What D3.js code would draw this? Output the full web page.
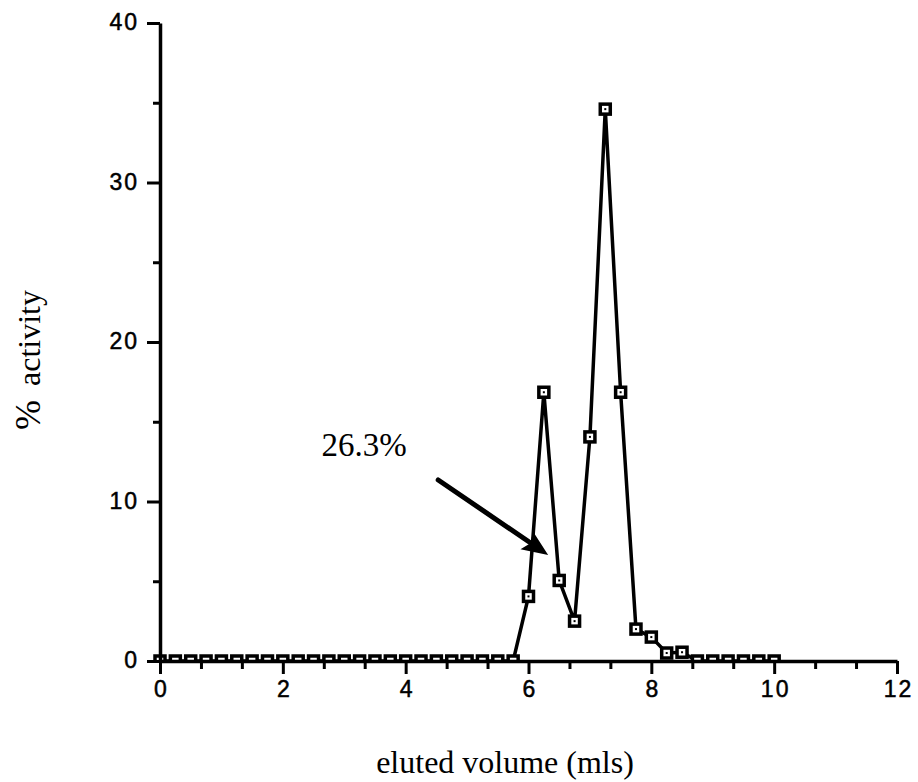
<!DOCTYPE html>
<html>
<head>
<meta charset="utf-8">
<script src="https://cdn.jsdelivr.net/npm/d3@7"></script>
<style>
  body { margin: 0; background: #fff; }
  svg { display: block; }
</style>
</head>
<body>
<svg id="chart" width="918" height="782"></svg>
<script>
// ---- data ----
const volume = [0, 0.25, 0.5, 0.75, 1, 1.25, 1.5, 1.75, 2, 2.25, 2.5, 2.75, 3, 3.25, 3.5, 3.75,
  4, 4.25, 4.5, 4.75, 5, 5.25, 5.5, 5.75, 6, 6.25, 6.5, 6.75, 7, 7.25, 7.5, 7.75, 8, 8.25, 8.5,
  8.75, 9, 9.25, 9.5, 9.75, 10];
const activity = [0, 0, 0, 0, 0, 0, 0, 0, 0, 0, 0, 0, 0, 0, 0, 0,
  0, 0, 0, 0, 0, 0, 0, 0, 4.05, 16.85, 5.05, 2.5, 14.05, 34.6, 16.85, 2.0, 1.5, 0.5, 0.55,
  0, 0, 0, 0, 0, 0];
const xMajorTicks = [0, 2, 4, 6, 8, 10, 12];
const xMinorTicks = [0.667, 1.333, 2.667, 3.333, 4.667, 5.333, 6.667, 7.333, 8.667, 9.333, 10.667, 11.333];
const yMajorTicks = [0, 10, 20, 30, 40];
const yMinorTicks = [5, 15, 25, 35];
const annotationText = "26.3%";
const annotationPos = [2.63, 12.85];
const arrowFrom = [4.53, 11.35];
const arrowTo = [6.32, 6.65];
const xTitle = "eluted volume (mls)";
const yTitleParts = ["%", "activity"];

// ---- layout ----
const svg = d3.select("#chart");
const x = d3.scaleLinear().domain([0, 12]).range([160, 897]);
const y = d3.scaleLinear().domain([0, 40]).range([661, 23]);

const tickFont = "'Liberation Sans', Arial, Helvetica, sans-serif";
const serif = "'Liberation Serif', 'Times New Roman', serif";

const data = volume.map((v, i) => ({ v, a: activity[i] }));

svg.append("defs").append("clipPath").attr("id", "plotclip")
  .append("rect").attr("x", 0).attr("y", 0).attr("width", 918).attr("height", y(0) + 1);

// line
svg.append("path")
  .datum(data)
  .attr("fill", "none")
  .attr("stroke", "#000")
  .attr("stroke-width", 3.5)
  .attr("stroke-linejoin", "miter")
  .attr("d", d3.line().x(d => x(d.v)).y(d => y(d.a)));

// markers
const mk = svg.append("g").attr("clip-path", "url(#plotclip)")
  .selectAll("g").data(data).join("g")
  .attr("transform", d => `translate(${x(d.v)},${y(d.a)})`);
mk.append("rect")
  .attr("x", -5).attr("y", -5).attr("width", 10).attr("height", 10)
  .attr("fill", "#fff").attr("stroke", "#000").attr("stroke-width", 3.5);
mk.append("rect")
  .attr("x", -1).attr("y", -1).attr("width", 2).attr("height", 2)
  .attr("fill", "#000");

// x axis
const xAxisG = svg.append("g").attr("transform", `translate(0,${y(0)})`);
xAxisG.call(d3.axisBottom(x).tickValues(xMajorTicks).tickSize(13).tickSizeOuter(0)
  .tickFormat(d3.format("d")));
xAxisG.append("g").call(d3.axisBottom(x).tickValues(xMinorTicks).tickSize(8).tickSizeOuter(0).tickFormat(""))
  .select(".domain").remove();
xAxisG.selectAll("path.domain").attr("stroke-width", 3.5);
xAxisG.selectAll(".tick line").attr("stroke-width", 3);
xAxisG.selectAll(".tick text")
  .attr("font-family", tickFont).attr("font-size", 23).attr("fill", "#000")
  .attr("stroke", "#000").attr("stroke-width", 0.5)
  .attr("letter-spacing", 2).attr("dx", 1).attr("dy", "0.85em");

// y axis
const yAxisG = svg.append("g").attr("transform", `translate(${x(0)},0)`);
yAxisG.call(d3.axisLeft(y).tickValues(yMajorTicks).tickSize(13).tickSizeOuter(0)
  .tickFormat(d3.format("d")));
yAxisG.append("g").call(d3.axisLeft(y).tickValues(yMinorTicks).tickSize(7).tickSizeOuter(0).tickFormat(""))
  .select(".domain").remove();
yAxisG.selectAll("path.domain").attr("stroke-width", 3.5);
yAxisG.selectAll(".tick line").attr("stroke-width", 3);
yAxisG.selectAll(".tick text")
  .attr("font-family", tickFont).attr("font-size", 23).attr("fill", "#000")
  .attr("stroke", "#000").attr("stroke-width", 0.5)
  .attr("letter-spacing", 2).attr("x", -21).attr("dy", "0.3em");

// annotation
svg.append("text")
  .attr("x", x(annotationPos[0])).attr("y", y(annotationPos[1]))
  .attr("font-family", serif).attr("font-size", 33).attr("fill", "#000")
  .text(annotationText);

// arrow
const ax0 = x(arrowFrom[0]), ay0 = y(arrowFrom[1]);
const ax1 = x(arrowTo[0]), ay1 = y(arrowTo[1]);
const ang = Math.atan2(ay1 - ay0, ax1 - ax0);
const headLen = 26, headHalf = 11;
const bx = ax1 - headLen * Math.cos(ang), by = ay1 - headLen * Math.sin(ang);
svg.append("line")
  .attr("x1", ax0).attr("y1", ay0).attr("x2", bx + 4 * Math.cos(ang)).attr("y2", by + 4 * Math.sin(ang))
  .attr("stroke", "#000").attr("stroke-width", 5).attr("stroke-linecap", "round");
svg.append("path")
  .attr("d", `M${ax1},${ay1} L${bx - headHalf * Math.sin(ang)},${by + headHalf * Math.cos(ang)} L${bx + 5 * Math.cos(ang)},${by + 5 * Math.sin(ang)} L${bx + headHalf * Math.sin(ang)},${by - headHalf * Math.cos(ang)} Z`)
  .attr("fill", "#000");

// axis titles
svg.append("text")
  .attr("x", 505).attr("y", 773)
  .attr("text-anchor", "middle")
  .attr("font-family", serif).attr("font-size", 32).attr("fill", "#000")
  .text(xTitle);

const yt = svg.append("text")
  .attr("transform", "translate(40,360) rotate(-90)")
  .attr("text-anchor", "middle")
  .attr("font-family", serif).attr("font-size", 32).attr("fill", "#000");
yt.append("tspan").attr("font-size", 36).text(yTitleParts[0]);
yt.append("tspan").attr("dx", 14).text(yTitleParts[1]);
</script>
</body>
</html>
